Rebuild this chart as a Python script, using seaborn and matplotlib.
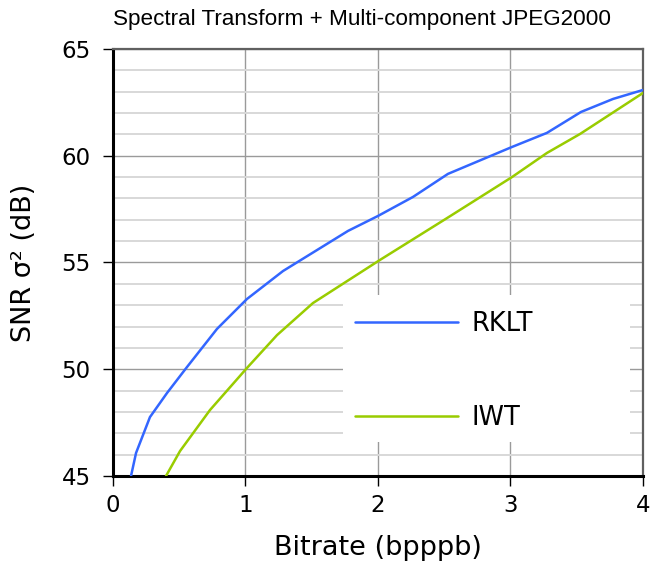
import matplotlib
matplotlib.use("Agg")
import matplotlib.pyplot as plt
from matplotlib.patches import Rectangle
from matplotlib.ticker import MultipleLocator
import numpy as np
import pandas as pd
import seaborn as sns

# Rate-distortion curves: bitrate (bpppb) vs. SNR variance (dB)
rklt_bitrate = [0.136, 0.174, 0.279, 0.408, 0.558, 0.785, 1.011, 1.283, 1.774,
                2.0, 2.264, 2.528, 3.011, 3.275, 3.532, 3.774, 4.0]
rklt_snr = [45.0, 46.08, 47.76, 48.89, 50.1, 51.89, 53.29, 54.6, 56.48,
            57.18, 58.07, 59.15, 60.41, 61.07, 62.05, 62.66, 63.08]

iwt_bitrate = [0.40, 0.506, 0.732, 1.011, 1.238, 1.509, 2.015, 2.521, 3.011,
               3.275, 3.525, 4.0]
iwt_snr = [45.0, 46.17, 48.09, 50.06, 51.6, 53.1, 55.12, 57.08, 59.0,
           60.13, 61.02, 62.94]

methods = ["RKLT", "IWT"]
colors = {"RKLT": "#3366ff", "IWT": "#99cc00"}

x_ticks = [0, 1, 2, 3, 4]
y_ticks = [45, 50, 55, 60, 65]

df = pd.concat([
    pd.DataFrame({"bitrate": rklt_bitrate, "snr": rklt_snr, "method": "RKLT"}),
    pd.DataFrame({"bitrate": iwt_bitrate, "snr": iwt_snr, "method": "IWT"}),
], ignore_index=True)

sns.set_style("white")
plt.rcParams["font.family"] = ["DejaVu Sans"]
plt.rcParams["text.color"] = "black"
plt.rcParams["axes.labelcolor"] = "black"
plt.rcParams["xtick.color"] = "black"
plt.rcParams["ytick.color"] = "black"
plt.rcParams["xtick.labelsize"] = 16.5
plt.rcParams["ytick.labelsize"] = 16.5
plt.rcParams["xtick.major.pad"] = 6
plt.rcParams["ytick.major.pad"] = 9
plt.rcParams["xtick.major.size"] = 7
plt.rcParams["ytick.major.size"] = 7

fig = plt.figure(figsize=(6.52, 5.63), dpi=100)
ax = fig.add_axes([0.1733, 0.1545, 0.8129, 0.7585])

sns.lineplot(data=df, x="bitrate", y="snr", hue="method", hue_order=methods,
             palette=colors, estimator=None, sort=False, linewidth=1.8,
             ax=ax, zorder=3)

ax.set_xlim(0, 4)
ax.set_ylim(45, 65)
ax.set_xticks(x_ticks)
ax.set_yticks(y_ticks)
ax.yaxis.set_minor_locator(MultipleLocator(1))

ax.grid(True, which="major", axis="both", color="#9a9a9a", linewidth=1.0, zorder=0)
ax.grid(True, which="minor", axis="y", color="#d8d8d8", linewidth=1.4, zorder=0)
ax.set_axisbelow(True)

ax.tick_params(axis="x", which="major", direction="out", length=7, width=1.0,
               color="black", labelcolor="black", labelsize=16.5, pad=6,
               bottom=True)
ax.tick_params(axis="y", which="major", direction="out", length=7, width=1.0,
               color="black", labelcolor="black", labelsize=16.5, pad=9,
               left=True)
ax.tick_params(axis="y", which="minor", length=0)

for side in ["left", "bottom"]:
    ax.spines[side].set_color("black")
    ax.spines[side].set_linewidth(2.2)
for side in ["top", "right"]:
    ax.spines[side].set_color("#606060")
    ax.spines[side].set_linewidth(1.6)

ax.set_xlabel("Bitrate (bpppb)", fontsize=19.5, labelpad=13, color="black")
ax.set_ylabel("SNR σ² (dB)", fontsize=19.5, labelpad=18, color="black")

fig.text(0.555, 0.965, "Spectral Transform + Multi-component JPEG2000",
         ha="center", va="center", fontsize=16.2, family="Liberation Sans",
         color="black")

# white panel behind the legend
ax.add_patch(Rectangle((0.434, 0.0796), 0.541, 0.344, transform=ax.transAxes,
                       facecolor="white", edgecolor="none", zorder=2))

sns.move_legend(ax, loc="upper left", bbox_to_anchor=(0.4566, 0.386),
                frameon=False, title=None, fontsize=18.5, handlelength=4.0,
                handletextpad=0.55, labelspacing=2.62, borderpad=0,
                borderaxespad=0)
for txt in ax.get_legend().get_texts():
    txt.set_color("black")

fig.savefig("out.png", dpi=100)
